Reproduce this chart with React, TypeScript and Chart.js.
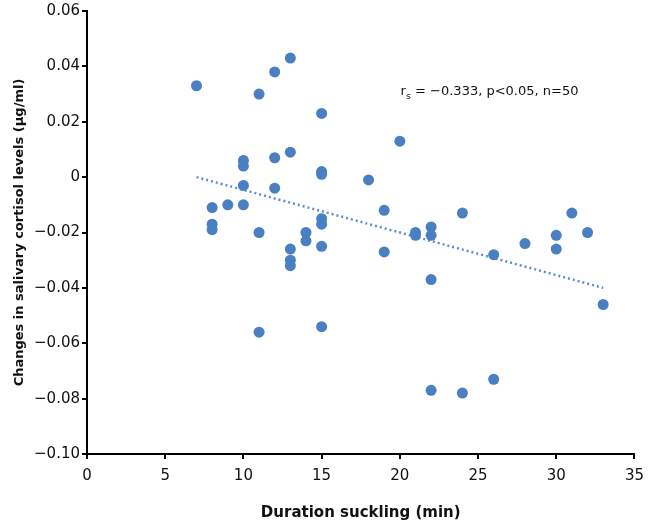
import React, { useEffect, useRef } from "react";
import { Chart, registerables } from "chart.js";

Chart.register(...registerables);

const durationMin: number[] = [
  7, 11, 12, 13, 15, 10, 10, 12, 13, 15, 15, 18, 20, 10, 12, 8, 9, 10, 8, 8,
  11, 14, 14, 15, 15, 13, 13, 13, 15, 11, 15, 19, 19, 21, 21, 22, 22, 22, 24, 26,
  28, 30, 30, 31, 32, 33, 22, 24, 26,
];
const cortisolChange: number[] = [
  0.033, 0.03, 0.038, 0.043, 0.023, 0.006, 0.004, 0.007, 0.009, 0.002, 0.001, -0.001, 0.013,
  -0.003, -0.004, -0.011, -0.01, -0.01, -0.017, -0.019, -0.02, -0.02, -0.023, -0.015, -0.017,
  -0.026, -0.03, -0.032, -0.025, -0.056, -0.054, -0.012, -0.027, -0.02, -0.021, -0.018, -0.021,
  -0.037, -0.013, -0.028, -0.024, -0.021, -0.026, -0.013, -0.02, -0.046, -0.077, -0.078, -0.073,
];
const trendX: number[] = [7, 33];
const trendY: number[] = [0.0, -0.04];
const xTicks: number[] = [0, 5, 10, 15, 20, 25, 30, 35];
const yTicks: number[] = [-0.1, -0.08, -0.06, -0.04, -0.02, 0, 0.02, 0.04, 0.06];
const annotationParts = { main: "r", sub: "s", rest: " = \u22120.333, p<0.05, n=50" };
const annotationAt = { x: 20.05, y: 0.0295 };

const FONT = "'DejaVu Sans', sans-serif";

function fmtY(v: number): string {
  if (Math.abs(v) < 1e-9) return "0";
  const s = Math.abs(v).toFixed(2);
  return v < 0 ? "\u2212" + s : s;
}

const annotationPlugin = {
  id: "rsAnnotation",
  afterDatasetsDraw(chart: any) {
    const { ctx, scales } = chart;
    const px = scales.x.getPixelForValue(annotationAt.x);
    const py = scales.y.getPixelForValue(annotationAt.y);
    ctx.save();
    ctx.fillStyle = "#111";
    ctx.textBaseline = "alphabetic";
    ctx.textAlign = "left";
    ctx.font = `13px ${FONT}`;
    ctx.fillText(annotationParts.main, px, py);
    let x = px + ctx.measureText(annotationParts.main).width;
    ctx.font = `9.5px ${FONT}`;
    ctx.fillText(annotationParts.sub, x, py + 4);
    x += ctx.measureText(annotationParts.sub).width;
    ctx.font = `13px ${FONT}`;
    ctx.fillText(annotationParts.rest, x, py);
    ctx.restore();
  },
};

export default function App() {
  const ref = useRef<HTMLCanvasElement | null>(null);

  useEffect(() => {
    document.body.style.margin = "0";
    if (!ref.current) return;
    const chart = new Chart(ref.current, {
      type: "scatter",
      data: {
        datasets: [
          {
            type: "line",
            data: trendX.map((x, i) => ({ x, y: trendY[i] })),
            borderColor: "#5a8fd2",
            borderWidth: 2.5,
            borderDash: [2, 3],
            pointRadius: 0,
            fill: false,
            order: 2,
          } as any,
          {
            data: durationMin.map((x, i) => ({ x, y: cortisolChange[i] })),
            backgroundColor: "#4a7fc1",
            borderColor: "#4a7fc1",
            pointRadius: 5.5,
            pointBorderWidth: 0,
            order: 1,
          },
        ],
      },
      options: {
        responsive: false,
        animation: false,
        layout: { padding: { top: 11, right: 16, left: 0, bottom: 0 } },
        plugins: { legend: { display: false }, tooltip: { enabled: false } },
        scales: {
          x: {
            type: "linear",
            min: 0,
            max: 35,
            afterBuildTicks: (s: any) => {
              s.ticks = xTicks.map((v) => ({ value: v }));
            },
            afterFit: (s: any) => {
              s.height = 68;
            },
            ticks: {
              color: "#111",
              font: { family: FONT, size: 15 },
              padding: 8,
              callback: (v: any) => String(v),
            },
            grid: {
              drawOnChartArea: false,
              drawTicks: true,
              tickLength: 5,
              color: "#000",
              lineWidth: 2,
            },
            border: { display: true, color: "#000", width: 2 },
            title: {
              display: true,
              text: "Duration suckling (min)",
              color: "#111",
              font: { family: FONT, size: 15, weight: "bold" },
              padding: { top: 10, bottom: 0 },
            },
          },
          y: {
            type: "linear",
            min: -0.1,
            max: 0.06,
            afterBuildTicks: (s: any) => {
              s.ticks = yTicks.map((v) => ({ value: v }));
            },
            afterFit: (s: any) => {
              s.width = 87;
            },
            ticks: {
              color: "#111",
              font: { family: FONT, size: 15 },
              padding: 2,
              callback: (v: any) => fmtY(Number(v)),
            },
            grid: {
              drawOnChartArea: false,
              drawTicks: true,
              tickLength: 5,
              color: "#000",
              lineWidth: 2,
            },
            border: { display: true, color: "#000", width: 2 },
            title: {
              display: true,
              text: "Changes in salivary cortisol levels (\u00b5g/ml)",
              color: "#111",
              font: { family: FONT, size: 13, weight: "bold" },
              padding: { top: 12, bottom: 4 },
            },
          },
        },
      },
      plugins: [annotationPlugin],
    });
    return () => chart.destroy();
  }, []);

  return (
    <div style={{ width: 652, height: 522 }}>
      <canvas ref={ref} width={652} height={522} />
    </div>
  );
}
